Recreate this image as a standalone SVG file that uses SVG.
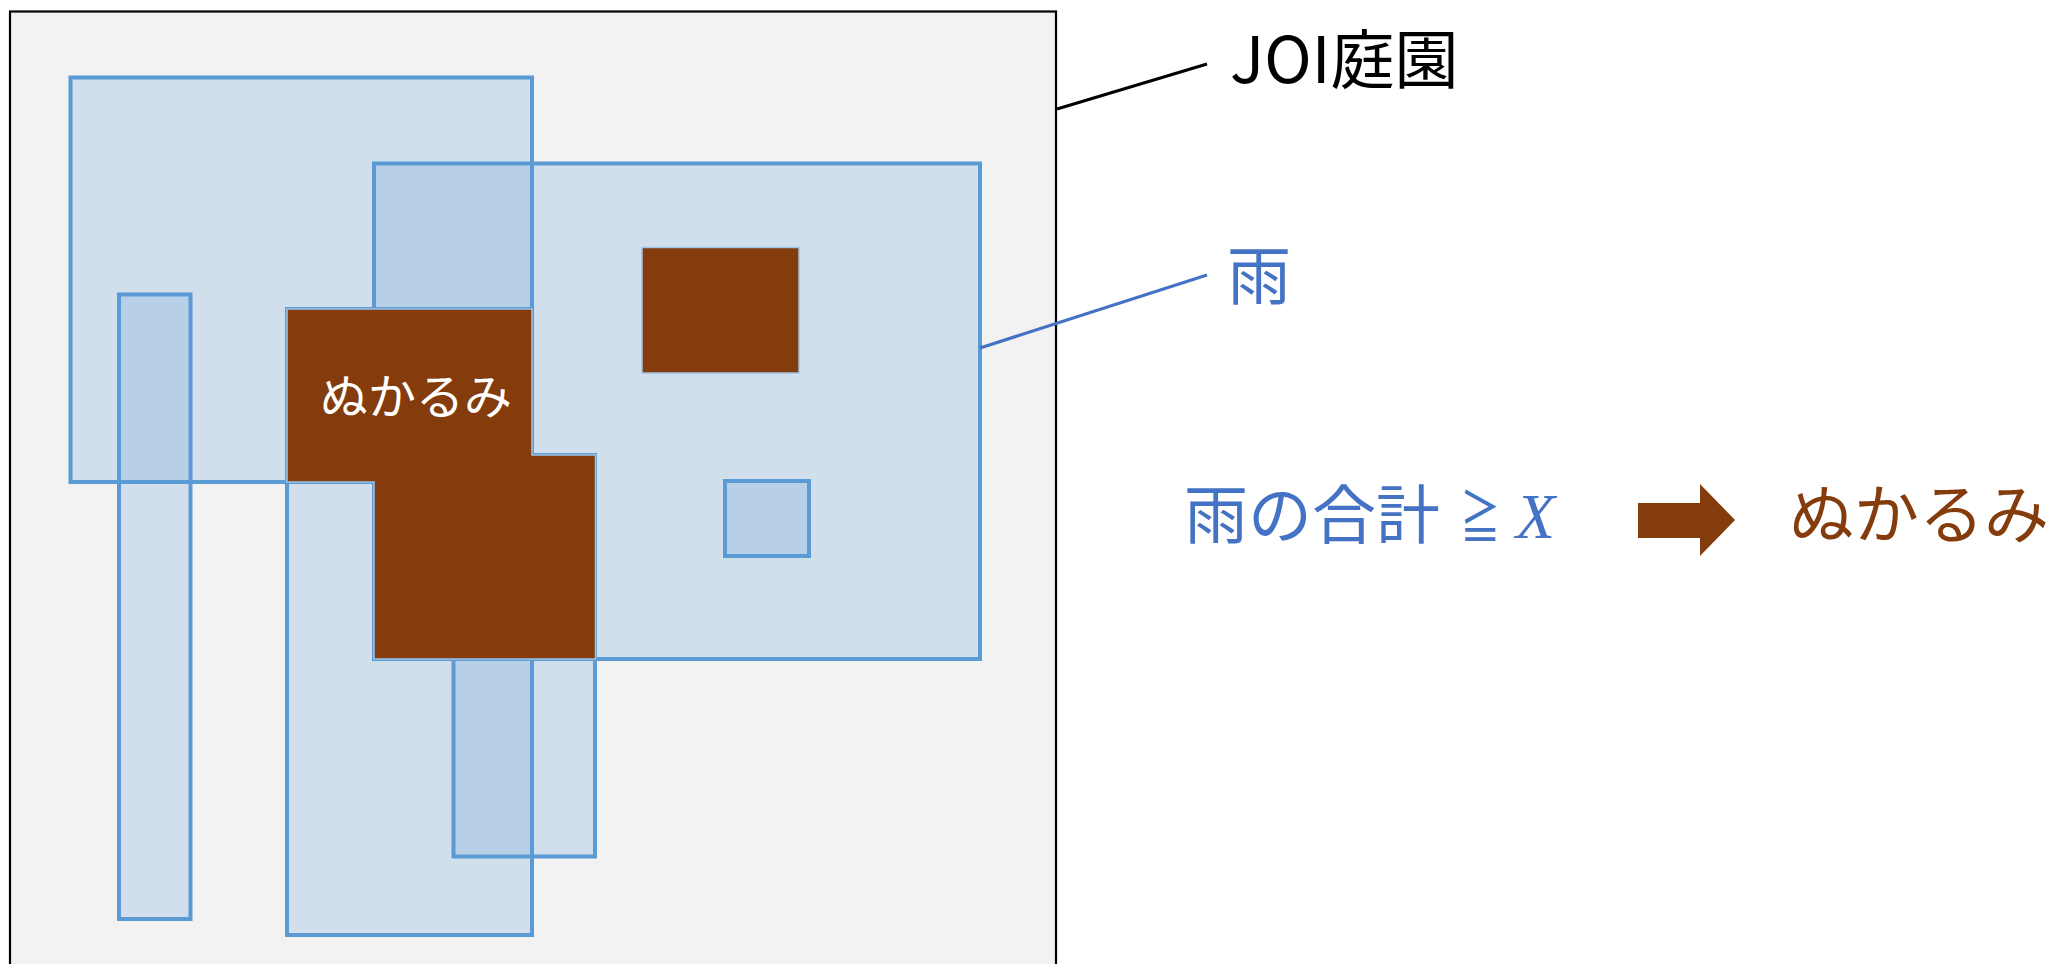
<svg xmlns="http://www.w3.org/2000/svg" width="2053" height="964" viewBox="0 0 2053 964">
<defs>
<style>
.area{fill:#5b9bd5;fill-opacity:0.22;stroke:#5b9bd5;stroke-width:4}
.mud{fill:#843c0c;stroke:#9dc3e6;stroke-width:1.5}
.jp{font-family:"Noto Sans CJK JP","Noto Sans",sans-serif}
</style>
</defs>
<rect width="2053" height="964" fill="#ffffff"/>
<g id="garden">
<rect x="10" y="11.5" width="1046" height="970" fill="#f2f2f2" stroke="#000000" stroke-width="2.2"/>
</g>
<g id="rain-areas">
<rect id="rainA" class="area" x="70.5" y="77.5" width="461.5" height="404.5"/>
<rect id="rainB" class="area" x="374" y="163.5" width="606" height="495.5"/>
<rect id="rainC" class="area" x="119" y="294.5" width="71.5" height="624.5"/>
<rect id="rainD" class="area" x="287" y="309" width="245" height="626"/>
<rect id="rainE" class="area" x="453.5" y="455" width="141.5" height="401.5"/>
<rect id="rainF" class="area" x="725" y="481" width="84" height="75"/>
</g>
<g id="mud-areas">
<rect id="mud1" class="mud" x="642" y="247.5" width="157" height="125.5"/>
<polygon id="mud2" class="mud" points="287,309 532,309 532,455 595.5,455 595.5,659 374,659 374,482 287,482"/>
<text class="jp" x="320" y="414" font-size="48" fill="#ffffff">ぬかるみ</text>
</g>
<g id="connectors">
<line x1="1057" y1="109" x2="1207" y2="64" stroke="#000000" stroke-width="3"/>
<line x1="980" y1="348" x2="1207" y2="275" stroke="#4472c4" stroke-width="3.2"/>
</g>
<g id="label-garden">
<text class="jp" x="1230" y="83" font-size="64" fill="#000000">JOI庭園</text>
</g>
<g id="label-rain">
<text class="jp" x="1227" y="299" font-size="64" fill="#4472c4">雨</text>
</g>
<g id="rule">
<text class="jp" x="1184" y="538" font-size="64" fill="#4472c4">雨の合計</text>
<text class="jp" transform="translate(1460,538) scale(0.63,0.88)" x="0" y="0" font-size="64" fill="#4472c4">≧</text>
<text x="1516" y="538" font-size="64" font-family="Liberation Serif, serif" font-style="italic" fill="#4472c4">X</text>
<polygon id="arrow" points="1638,503 1700,503 1700,484 1735,520 1700,556 1700,538 1638,538" fill="#843c0c"/>
<text class="jp" x="1789" y="538" font-size="65" fill="#843c0c">ぬかるみ</text>
</g>
</svg>
